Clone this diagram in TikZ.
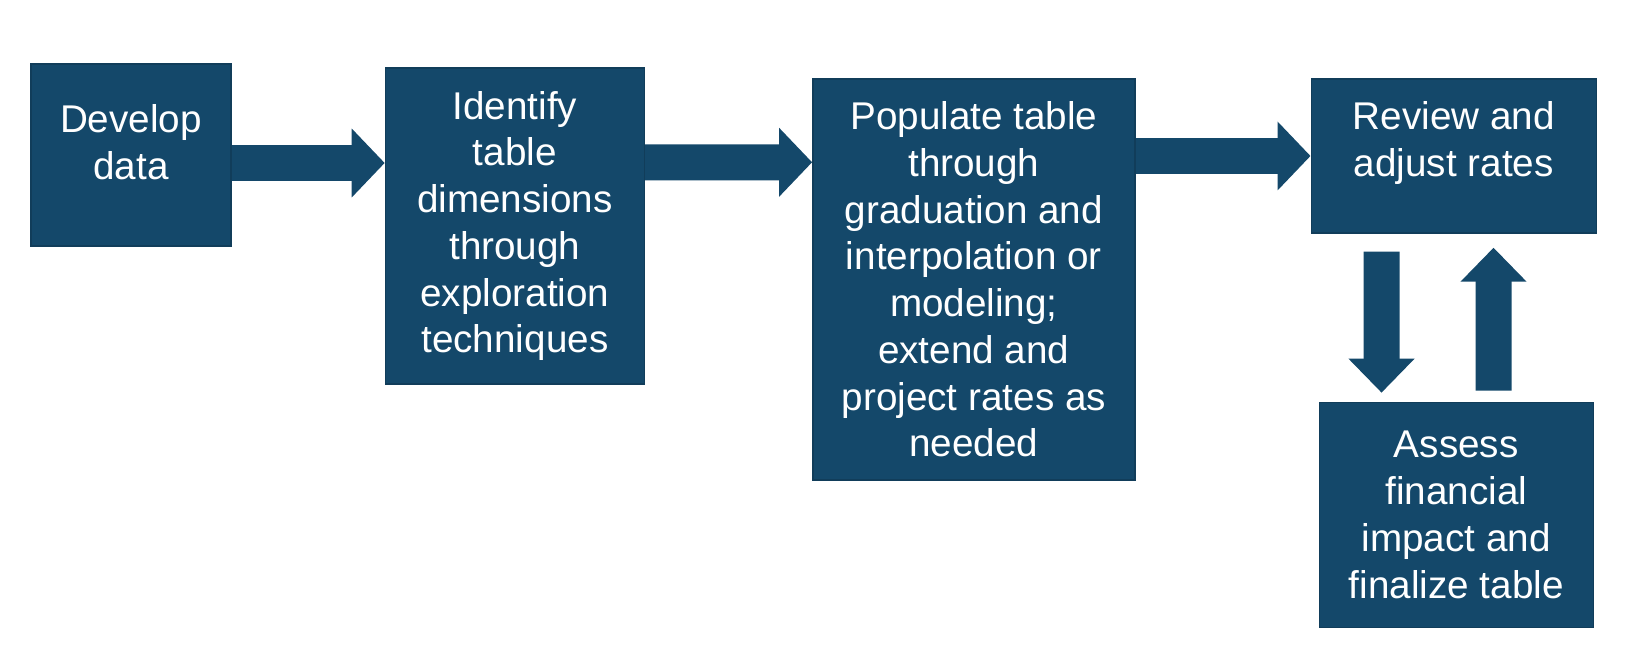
\documentclass[tikz,border=0pt]{standalone}
\usepackage{fontspec}
\setmainfont{Liberation Sans}
\usepackage{xcolor}
\usetikzlibrary{arrows.meta, positioning, calc}
\definecolor{tblue}{RGB}{20,72,106}

\begin{document}
\begin{tikzpicture}[
    box/.style={fill=tblue, draw=tblue!85!black, align=center, inner sep=0pt, text=white,
                font=\fontsize{11}{13.3}\selectfont},
    arr/.style={draw=tblue, line width=3.6mm, -{Triangle[length=3.3mm, width=6.7mm]}},
    varr/.style={draw=tblue, line width=3.6mm, -{Triangle[length=3.4mm, width=6.4mm]}}
]
\useasboundingbox (0,0) rectangle (16.26,-6.68);

\node[box, minimum width=2.00cm, minimum height=1.82cm] (dev) at (1.31,-1.55) {Develop\\data\\[-5.7pt]\mbox{}};
\node[box, minimum width=2.59cm, minimum height=3.16cm, right=1.53cm of dev.north east, anchor=north west, yshift=-0.04cm] (ident)
    {Identify\\table\\dimensions\\through\\exploration\\techniques};
\node[box, minimum width=3.22cm, minimum height=4.01cm, right=1.67cm of ident.north east, anchor=north west, yshift=-0.11cm] (pop)
    {Populate table\\through\\graduation and\\interpolation or\\modeling;\\extend and\\project rates as\\needed};
\node[box, minimum width=2.85cm, minimum height=1.54cm, right=1.75cm of pop.north east, anchor=north west] (rev)
    {Review and\\adjust rates\\[-3.5pt]\mbox{}};
\node[box, minimum width=2.74cm, minimum height=2.25cm, below=1.68cm of rev.south, anchor=north, xshift=0.025cm] (ass)
    {Assess\\financial\\impact and\\finalize table};

\draw[arr] ([yshift=-0.08cm]dev.east) -- ($(dev.east -| ident.west)+(0,-0.08)$);
\draw[arr] ([yshift=-0.95cm]ident.north east) -- ($(ident.north east -| pop.west)+(0,-0.95)$);
\draw[arr] (pop.east |- rev.west) -- (rev.west);
\draw[varr] ([xshift=0.71cm, yshift=-0.18cm]rev.south west) -- ([xshift=0.63cm, yshift=0.09cm]ass.north west);
\draw[varr] ([xshift=1.75cm, yshift=0.11cm]ass.north west) -- ([xshift=1.83cm, yshift=-0.14cm]rev.south west);
\end{tikzpicture}
\end{document}
